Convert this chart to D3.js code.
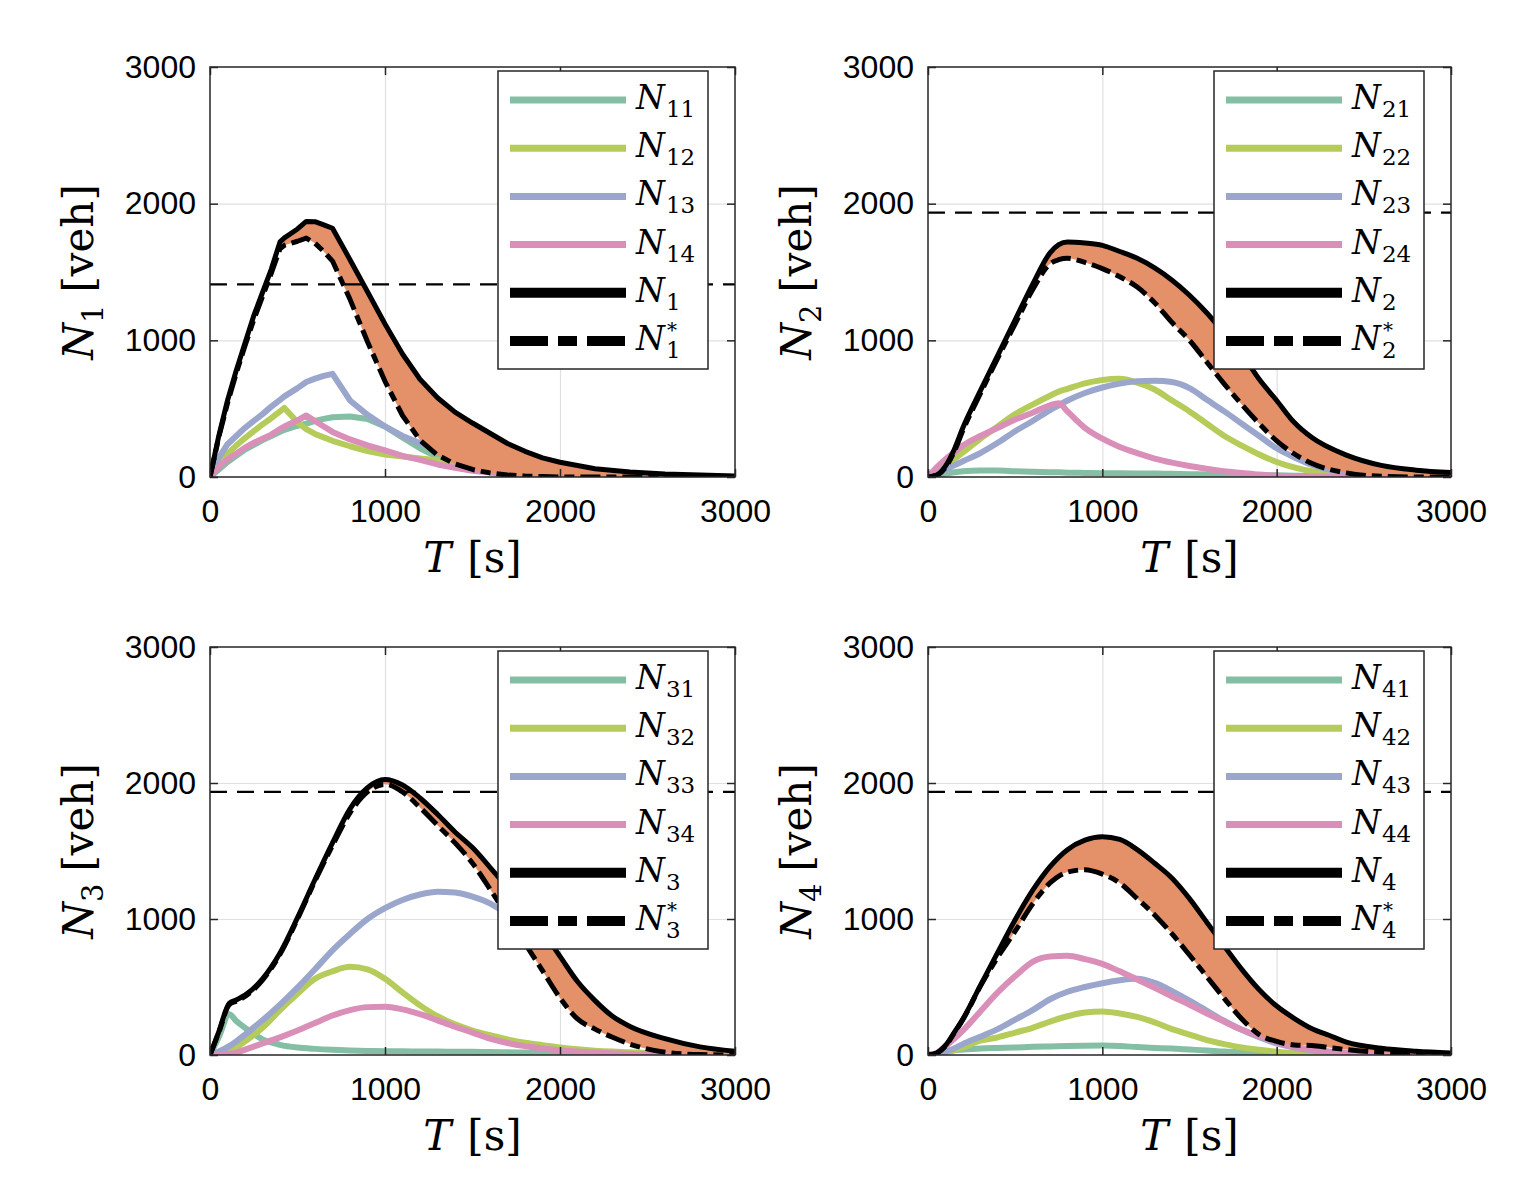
<!DOCTYPE html>
<html><head><meta charset="utf-8">
<script src="https://cdn.jsdelivr.net/npm/d3@7"></script>
<style>body{margin:0;background:#fff}</style>
</head><body>
<svg id="c" width="1532" height="1186"></svg>
<script>
// ---------- DATA ----------
const xTicks = [0, 1000, 2000, 3000];
const yTicks = [0, 1000, 2000, 3000];

// Panel 1
const t1  = [0,50,100,150,200,250,300,350,400,425,500,550,600,650,700,800,900,1000,1100,1200,1300,1400,1500,1600,1700,1800,1900,2000,2200,2400,2600,2800,3000];
const N11 = [0,55,110,155,200,235,270,300,330,345,375,390,410,425,437,442,425,370,290,210,145,100,65,45,30,20,14,10,6,3,2,1,0];
const N12 = [0,100,170,230,285,335,385,430,480,505,400,350,315,290,265,225,190,165,150,135,122,100,70,50,35,25,18,13,7,4,2,1,0];
const N13 = [0,140,240,300,360,410,460,515,565,590,650,695,720,740,755,560,455,370,300,248,200,160,120,90,65,45,32,22,12,6,3,1,0];
const N14 = [0,75,130,170,215,250,280,310,350,370,415,450,410,370,330,275,232,195,155,125,92,68,45,32,19,12,8,6,4,2,1,0,0];
const N1  = [0,300,560,780,980,1180,1350,1520,1720,1750,1815,1870,1868,1845,1820,1590,1355,1120,900,715,580,475,395,320,245,188,140,108,60,37,22,14,8];
const N1s = [0,290,540,760,960,1150,1320,1490,1670,1695,1725,1748,1710,1650,1580,1300,990,700,450,270,160,95,55,30,14,7,3,0,0,0,0,0,0];
const cap1 = 1410;

// Panel 2
const t2  = [0,50,100,150,200,300,400,500,600,700,750,800,900,1000,1100,1200,1300,1400,1500,1600,1700,1800,1900,2000,2100,2200,2400,2600,2800,3000];
const N21 = [0,10,25,35,42,48,48,42,38,35,34,32,30,28,27,26,25,23,21,19,17,15,13,12,10,9,6,3,1,0];
const N22 = [0,35,80,130,180,280,370,460,530,595,625,645,685,710,718,690,640,560,480,390,300,230,165,110,70,42,18,6,2,0];
const N23 = [0,20,55,85,115,175,250,335,410,490,525,560,615,655,683,700,705,695,650,565,480,390,300,210,145,90,30,8,2,0];
const N24 = [0,70,130,180,230,300,360,420,470,525,540,480,360,280,220,175,135,105,80,60,42,30,18,10,6,4,2,1,0,0];
const N2  = [0,15,80,200,360,630,890,1150,1410,1640,1700,1720,1712,1695,1650,1600,1530,1440,1330,1200,1050,900,715,560,400,290,160,85,50,32];
const N2s = [0,12,70,185,340,610,870,1120,1370,1560,1590,1600,1570,1525,1465,1390,1275,1130,1000,840,680,530,390,265,170,100,30,5,0,0];
const cap2 = 1935;

// Panel 3
const t3  = [0,50,110,150,200,300,400,500,600,700,800,900,1000,1100,1200,1300,1400,1500,1600,1700,1800,1900,2000,2100,2200,2300,2400,2600,2800,3000];
const N31 = [0,130,300,250,200,115,75,55,45,38,33,30,28,27,26,25,24,23,22,20,18,16,14,12,10,8,7,4,2,0];
const N32 = [0,10,35,55,100,200,330,450,560,615,648,630,560,460,365,285,225,180,145,115,90,72,55,42,32,25,20,10,4,0];
const N33 = [0,25,65,100,150,255,370,495,630,770,890,1000,1080,1140,1180,1200,1195,1165,1115,1030,910,770,620,480,360,260,190,90,35,10];
const N34 = [0,3,10,18,40,85,130,180,235,290,330,352,355,335,300,255,208,165,120,88,65,48,35,26,18,12,8,4,2,0];
const N3  = [0,170,380,405,440,560,750,1010,1290,1560,1810,1965,2025,1985,1890,1770,1640,1525,1380,1230,1080,910,725,540,400,285,210,120,60,28];
const N3s = [0,165,370,395,430,550,740,1000,1280,1540,1780,1935,1990,1935,1820,1690,1560,1410,1220,1020,820,620,420,265,190,130,80,20,3,0];
const cap3 = 1935;

// Panel 4
const t4  = [0,50,100,150,200,300,400,500,600,700,800,900,1000,1100,1200,1300,1400,1500,1600,1700,1800,1900,2000,2100,2200,2300,2400,2600,2800,3000];
const N41 = [0,8,25,35,40,48,52,55,60,63,66,68,69,66,58,52,47,40,33,25,20,16,13,10,8,6,5,3,1,0];
const N42 = [0,5,20,35,55,105,130,165,200,245,285,312,320,305,280,240,190,150,110,80,55,38,24,15,10,6,4,2,1,0];
const N43 = [0,8,25,48,80,135,190,260,330,410,465,500,528,550,560,530,470,400,325,250,185,130,85,55,35,22,14,5,2,0];
const N44 = [0,15,65,120,180,320,460,580,685,725,730,705,670,615,555,495,430,370,305,245,185,140,95,60,40,25,17,8,3,0];
const N4  = [0,15,70,165,265,510,755,995,1210,1385,1510,1580,1605,1585,1510,1410,1300,1150,975,800,630,480,360,270,195,145,95,50,28,15];
const N4s = [0,13,65,160,260,505,720,910,1110,1265,1345,1362,1330,1265,1150,1030,890,735,575,415,265,150,100,74,70,55,40,20,10,5];
const cap4 = 1935;

const regionIds = ["1","2","3","4"];

// ---------- STYLE ----------
const partColors = ["#84bea4", "#b5cc5a", "#9ba6cc", "#da8fb9"];
const fillColor = "#e4916a";
const sansFont = "'Liberation Sans', Arial, Helvetica, sans-serif";
const serifFont = "'DejaVu Serif', 'Liberation Serif', 'Times New Roman', serif";

const panels = [
  {t:t1, parts:[N11,N12,N13,N14], tot:N1, opt:N1s, cap:cap1, id:regionIds[0], curve:d3.curveLinear},
  {t:t2, parts:[N21,N22,N23,N24], tot:N2, opt:N2s, cap:cap2, id:regionIds[1], curve:d3.curveMonotoneX},
  {t:t3, parts:[N31,N32,N33,N34], tot:N3, opt:N3s, cap:cap3, id:regionIds[2], curve:d3.curveMonotoneX},
  {t:t4, parts:[N41,N42,N43,N44], tot:N4, opt:N4s, cap:cap4, id:regionIds[3], curve:d3.curveMonotoneX}
];
const layout = [
  {x0:210, x1:735, y0:477, y1:67},
  {x0:928, x1:1451, y0:477, y1:67},
  {x0:210, x1:735, y0:1055, y1:647},
  {x0:928, x1:1451, y0:1055, y1:647}
];

const svg = d3.select("#c");
const defs = svg.append("defs");

panels.forEach((p, i) => {
  const L = layout[i];
  const x = d3.scaleLinear().domain([0,3000]).range([L.x0, L.x1]);
  const y = d3.scaleLinear().domain([0,3000]).range([L.y0, L.y1]);
  const g = svg.append("g");
  const cid = "clip" + i;
  defs.append("clipPath").attr("id", cid).append("rect")
    .attr("x", L.x0).attr("y", L.y1).attr("width", L.x1 - L.x0).attr("height", L.y0 - L.y1);

  // grid
  g.append("g").attr("transform", `translate(0,${L.y0})`)
    .call(d3.axisBottom(x).tickValues([1000,2000]).tickSize(-(L.y0 - L.y1)).tickFormat(""))
    .call(a => { a.select(".domain").remove(); a.selectAll("line").attr("stroke","#e0e0e0").attr("stroke-width",1.2); });
  g.append("g").attr("transform", `translate(${L.x0},0)`)
    .call(d3.axisLeft(y).tickValues([1000,2000]).tickSize(-(L.x1 - L.x0)).tickFormat(""))
    .call(a => { a.select(".domain").remove(); a.selectAll("line").attr("stroke","#e0e0e0").attr("stroke-width",1.2); });

  const plot = g.append("g").attr("clip-path", `url(#${cid})`);
  const lineGen = d3.line().x((d,j) => x(p.t[j])).y(d => y(d)).curve(p.curve);

  p.parts.forEach((arr, k) => {
    plot.append("path").attr("d", lineGen(arr)).attr("fill","none")
      .attr("stroke", partColors[k]).attr("stroke-width", 6).attr("stroke-linejoin","round");
  });

  const areaGen = d3.area().x((d,j) => x(p.t[j]))
    .y0((d,j) => y(p.opt[j])).y1((d,j) => y(p.tot[j])).curve(p.curve);
  plot.append("path").attr("d", areaGen(p.t)).attr("fill", fillColor).attr("stroke","none");

  plot.append("line").attr("x1", x(0)).attr("x2", x(3000)).attr("y1", y(p.cap)).attr("y2", y(p.cap))
    .attr("stroke","#000").attr("stroke-width",2.3).attr("stroke-dasharray","17,10");

  plot.append("path").attr("d", lineGen(p.tot)).attr("fill","none")
    .attr("stroke","#000").attr("stroke-width",5).attr("stroke-linejoin","round");
  plot.append("path").attr("d", lineGen(p.opt)).attr("fill","none")
    .attr("stroke","#000").attr("stroke-width",5).attr("stroke-linejoin","round")
    .attr("stroke-dasharray","20,6,10,6");

  // axes box
  g.append("rect").attr("x", L.x0).attr("y", L.y1).attr("width", L.x1 - L.x0).attr("height", L.y0 - L.y1)
    .attr("fill","none").attr("stroke","#262626").attr("stroke-width",1.5);

  const styleAxis = a => {
    a.select(".domain").remove();
    a.selectAll("line").attr("stroke","#262626").attr("stroke-width",1.5);
    a.selectAll("text").attr("font-family", sansFont).attr("font-size", 32).attr("fill","#000");
  };
  g.append("g").attr("transform", `translate(0,${L.y0})`)
    .call(d3.axisBottom(x).tickValues(xTicks).tickSizeInner(-8).tickSizeOuter(0).tickPadding(22).tickFormat(d3.format("d")))
    .call(styleAxis);
  g.append("g").attr("transform", `translate(0,${L.y1})`)
    .call(d3.axisTop(x).tickValues(xTicks).tickSizeInner(-8).tickSizeOuter(0).tickFormat(""))
    .call(styleAxis);
  g.append("g").attr("transform", `translate(${L.x0},0)`)
    .call(d3.axisLeft(y).tickValues(yTicks).tickSizeInner(-8).tickSizeOuter(0).tickPadding(14).tickFormat(d3.format("d")))
    .call(styleAxis);
  g.append("g").attr("transform", `translate(${L.x1},0)`)
    .call(d3.axisRight(y).tickValues(yTicks).tickSizeInner(-8).tickSizeOuter(0).tickFormat(""))
    .call(styleAxis);

  // axis labels
  const yl = g.append("text")
    .attr("transform", `translate(${L.x0 - 117},${(L.y0 + L.y1)/2}) rotate(-90)`)
    .attr("text-anchor","middle").attr("font-family", serifFont).attr("font-size",42)
    .attr("font-weight",300).attr("fill","#000");
  yl.append("tspan").attr("font-style","italic").text("N");
  yl.append("tspan").attr("font-size",29).attr("dy",10).text(p.id);
  yl.append("tspan").attr("dy",-10).attr("dx",12).text("[veh]");

  const xl = g.append("text")
    .attr("x", (L.x0 + L.x1)/2).attr("y", L.y0 + 95)
    .attr("text-anchor","middle").attr("font-family", serifFont).attr("font-size",42)
    .attr("font-weight",300).attr("fill","#000");
  xl.append("tspan").attr("font-style","italic").text("T");
  xl.append("tspan").attr("dx",16).text("[s]");

  // legend
  const lx = L.x1 - 237, ly = L.y1 + 4, lw = 210, lh = 298;
  const lg = g.append("g");
  lg.append("rect").attr("x", lx).attr("y", ly).attr("width", lw).attr("height", lh)
    .attr("fill","#fff").attr("stroke","#262626").attr("stroke-width",1.5);
  const entries = [
    {sub: p.id + "1", color: partColors[0], w: 7, dash: null},
    {sub: p.id + "2", color: partColors[1], w: 7, dash: null},
    {sub: p.id + "3", color: partColors[2], w: 7, dash: null},
    {sub: p.id + "4", color: partColors[3], w: 7, dash: null},
    {sub: p.id, color: "#000", w: 10, dash: null},
    {sub: p.id, color: "#000", w: 10, dash: "38,10,19,10", star: true}
  ];
  entries.forEach((e, k) => {
    const ey = L.y1 + 33 + k * 48.2;
    lg.append("line").attr("x1", L.x1 - 225).attr("x2", L.x1 - 109).attr("y1", ey).attr("y2", ey)
      .attr("stroke", e.color).attr("stroke-width", e.w).attr("stroke-dasharray", e.dash);
    const tx = L.x1 - 99;
    const txt = lg.append("text").attr("x", tx).attr("y", ey + 9)
      .attr("font-family", serifFont).attr("font-size", 33).attr("font-weight",300).attr("fill","#000");
    const nt = txt.append("tspan").attr("font-style","italic").text("N");
    txt.append("tspan").attr("font-size", 23).attr("dy", 8).attr("dx", 1).text(e.sub);
    if (e.star) {
      const nw = nt.node().getComputedTextLength();
      lg.append("text").attr("x", tx + nw + 2).attr("y", ey - 4)
        .attr("font-family", serifFont).attr("font-size", 20).attr("fill","#000").text("*");
    }
  });
});
</script>
</body></html>
